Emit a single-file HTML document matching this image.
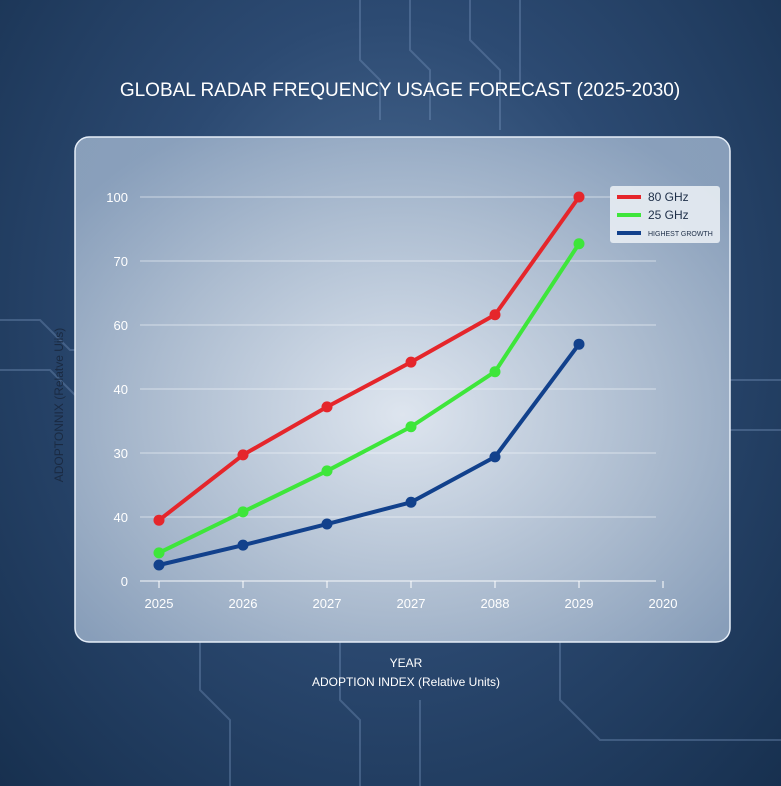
<!DOCTYPE html>
<html><head><meta charset="utf-8">
<style>
html,body{margin:0;padding:0;}
body{width:781px;height:786px;overflow:hidden;background:radial-gradient(ellipse at 50% 40%,#4f6f96 0%,#2c4a72 45%,#17304f 100%);font-family:"Liberation Sans",sans-serif;}
svg{display:block;}
</style></head>
<body>
<svg id="chart" width="781" height="786" viewBox="0 0 781 786" xmlns="http://www.w3.org/2000/svg">
<defs>
<radialGradient id="pg" cx="50%" cy="55%" r="65%">
<stop offset="0" stop-color="#e6ecf4" stop-opacity="0.95"/>
<stop offset="0.6" stop-color="#bccadb" stop-opacity="0.88"/>
<stop offset="1" stop-color="#9aafc9" stop-opacity="0.85"/>
</radialGradient>
</defs>
<g stroke="#7f9cc2" stroke-opacity="0.35" fill="none" stroke-width="2">
<path d="M360 0 V60 L380 80 V120"/><path d="M410 0 V50 L430 70 V120"/><path d="M470 0 V40 L500 70 V130"/>
<path d="M520 0 V90"/><path d="M0 320 H40 L70 350 H75"/><path d="M0 370 H50 L75 395"/>
<path d="M730 380 H781"/><path d="M730 430 H781"/><path d="M340 642 V700 L360 720 V786"/>
<path d="M420 700 V786"/><path d="M560 642 V700 L600 740 H781"/><path d="M200 642 V690 L230 720 V786"/>
</g>
<text x="400" y="96" fill="#ffffff" font-size="19" text-anchor="middle">GLOBAL RADAR FREQUENCY USAGE FORECAST (2025-2030)</text>
<rect x="75" y="137" width="655" height="505" rx="14" fill="url(#pg)" stroke="#e6eef8" stroke-width="1.5"/>
<g id="grid"></g>
<g id="series"></g>
<text transform="translate(63,405) rotate(-90)" fill="#1a2a42" font-size="12" text-anchor="middle">ADOPTONNIX (Relatve Uiis)</text>
<text x="406" y="667" fill="#ffffff" font-size="12" text-anchor="middle">YEAR</text>
<text x="406" y="686" fill="#ffffff" font-size="12" text-anchor="middle">ADOPTION INDEX (Relative Units)</text>
<g>
<rect x="610" y="186" width="110" height="57" rx="3" fill="#e8edf3" fill-opacity="0.9"/>
<line x1="617" y1="197" x2="641" y2="197" stroke="#e5262b" stroke-width="4"/>
<text x="648" y="201" font-size="12" fill="#1e2f48">80 GHz</text>
<line x1="617" y1="215" x2="641" y2="215" stroke="#3ee63a" stroke-width="4"/>
<text x="648" y="219" font-size="12" fill="#1e2f48">25 GHz</text>
<line x1="617" y1="233" x2="641" y2="233" stroke="#12418c" stroke-width="4"/>
<text x="648" y="236" font-size="7" fill="#1e2f48">HIGHEST GROWTH</text>
</g>
</svg>
<script>
const categories=["2025","2026","2027","2027","2088","2029","2020"];
const yTickLabels=["0","40","30","40","60","70","100"];
const red=[0.95,1.97,2.72,3.42,4.16,6.0];
const green=[0.44,1.08,1.72,2.41,3.27,5.27];
const blue=[0.25,0.56,0.89,1.23,1.94,3.70];
const NS="http://www.w3.org/2000/svg";
const X0=159,XS=84,Y0=581,YS=64;
function xs(i){return X0+i*XS;}
function ys(v){return Y0-v*YS;}
function mk(t,a,p){const e=document.createElementNS(NS,t);for(const k in a)e.setAttribute(k,a[k]);p.appendChild(e);return e;}
const grid=document.getElementById('grid');
yTickLabels.forEach((l,i)=>{
 const ln=mk('line',{x1:140,x2:656,y1:ys(i),y2:ys(i),stroke:i===0?'#ffffff':'#f3f6fa','stroke-opacity':i===0?0.9:0.6,'stroke-width':1},grid);
 
 
 const t=mk('text',{x:128,y:ys(i)+5,'text-anchor':'end','font-size':13,fill:'#ffffff'},grid);
 t.textContent=l;
 
 
});
categories.forEach((c,i)=>{
 const t=mk('text',{x:xs(i),y:608,'text-anchor':'middle','font-size':13,fill:'#ffffff'},grid);
 t.textContent=c;
 
 
 const tk=mk('line',{x1:xs(i),x2:xs(i),y1:581,y2:588,stroke:'#ffffff'},grid);
 
 
});
const sg=document.getElementById('series');
[[blue,'#12418c','series-highest-growth'],[green,'#3ee63a','series-25ghz'],[red,'#e5262b','series-80ghz']].forEach(([d,col,name])=>{
 const pl=mk('polyline',{points:d.map((v,i)=>xs(i)+','+ys(v)).join(' '),fill:'none',stroke:col,'stroke-width':4,'stroke-linejoin':'round'},sg);
 
 
 d.forEach((v,i)=>{
  const c=mk('circle',{cx:xs(i),cy:ys(v),r:5.5,fill:col},sg);
  
  
 });
});
</script>
</body></html>
